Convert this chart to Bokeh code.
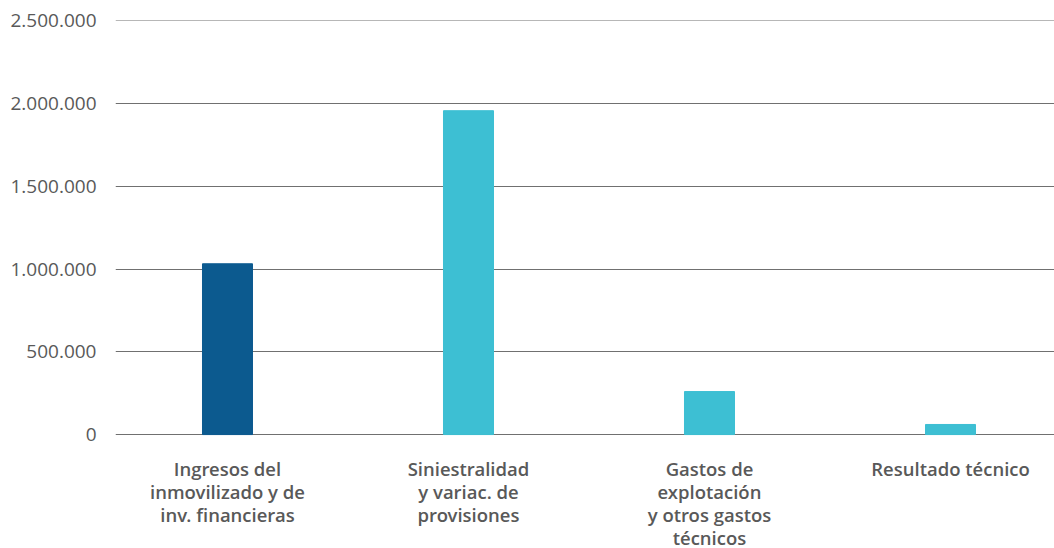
from bokeh.plotting import figure
from bokeh.models import FixedTicker, ColumnDataSource, Range1d, Label
from bokeh.embed import file_html
from bokeh.resources import INLINE

categories = ["Ingresos del\ninmovilizado y de\ninv. financieras",
              "Siniestralidad\ny variac. de\nprovisiones",
              "Gastos de\nexplotación\ny otros gastos\ntécnicos",
              "Resultado técnico"]
values = [1032000, 1957000, 260000, 61000]
colors = ["#0c5a8f", "#3dbfd3", "#3dbfd3", "#3dbfd3"]
y_ticks = [0, 500000, 1000000, 1500000, 2000000, 2500000]
y_tick_labels = ["0", "500.000", "1.000.000", "1.500.000", "2.000.000", "2.500.000"]

y_max = 2500000
# frame: top at 20px, value 0 at 434px, frame bottom at 548px (room for category labels)
y_min = -y_max * (548 - 434) / (434 - 20)

xs = list(range(len(categories)))
src = ColumnDataSource(dict(x=xs, top=values, color=colors))

p = figure(width=1054, height=548, output_backend="svg", toolbar_location=None,
           x_range=Range1d(-0.4647, 3.4315), y_range=Range1d(y_min, y_max * 1.0008),
           min_border_left=115, min_border_right=0, min_border_top=20, min_border_bottom=0)
p.outline_line_color = None
p.vbar(x="x", top="top", width=0.2075, color="color", source=src)

p.xaxis.visible = False
p.xgrid.grid_line_color = None
p.ygrid.ticker = FixedTicker(ticks=y_ticks)
p.ygrid.grid_line_color = "#707070"
p.ygrid.grid_line_width = 1.2

p.yaxis.ticker = FixedTicker(ticks=y_ticks)
p.yaxis.major_label_overrides = {t: l for t, l in zip(y_ticks, y_tick_labels)}
p.yaxis.axis_line_color = None
p.yaxis.major_tick_line_color = None
p.yaxis.minor_tick_line_color = None
p.yaxis.major_tick_in = 0
p.yaxis.major_tick_out = 0
p.yaxis.major_label_standoff = 19
p.yaxis.major_label_text_font = "Open Sans"
p.yaxis.major_label_text_font_size = "19px"
p.yaxis.major_label_text_color = "#595959"

for x, c in zip(xs, categories):
    p.add_layout(Label(x=x, y=93, x_units="data", y_units="screen", text=c,
                       text_align="center", text_baseline="top",
                       text_font="Open Sans SemiBold", text_font_size="18.5px",
                       text_line_height=0.92, text_color="#595959"))

open("out.html", "w").write(file_html(p, INLINE))
